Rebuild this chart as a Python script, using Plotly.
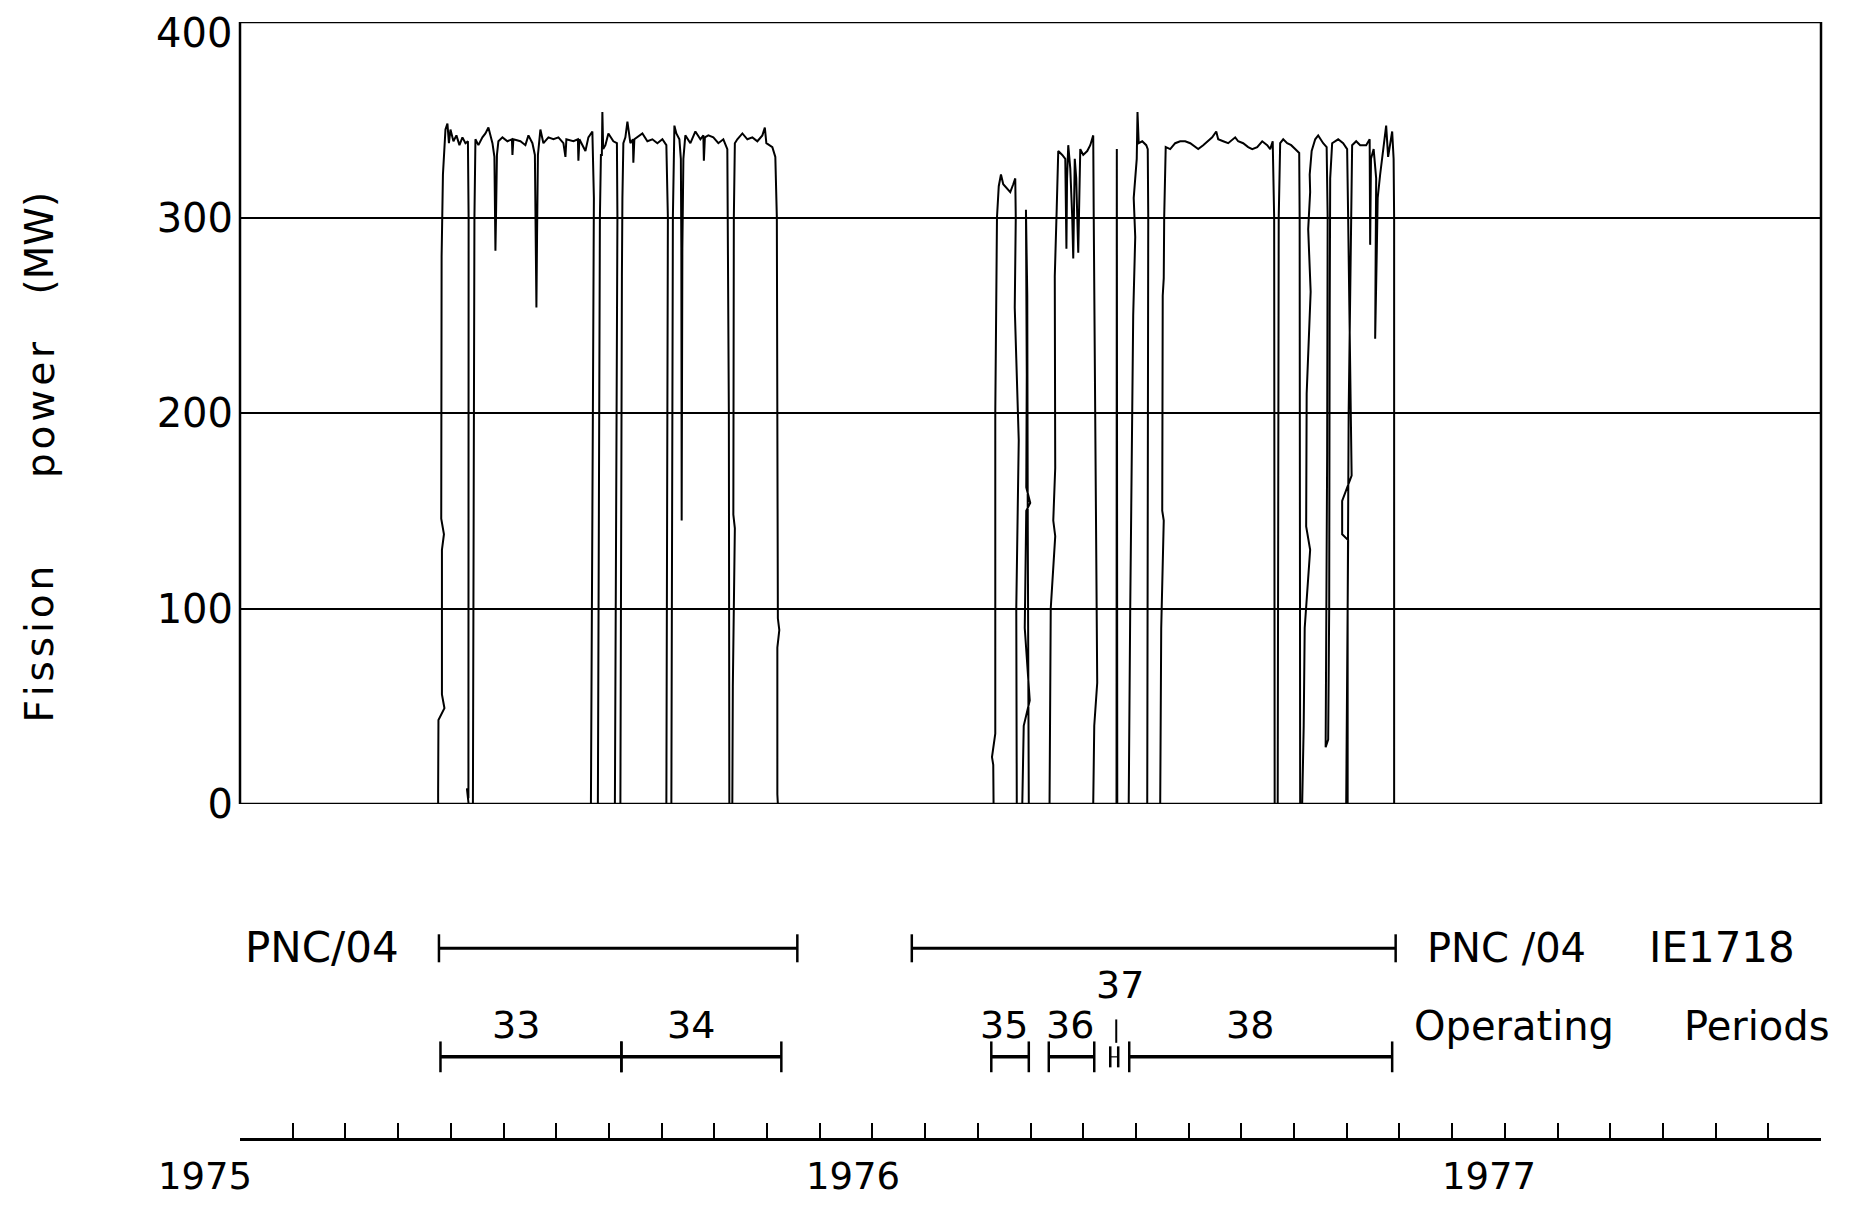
import plotly.graph_objects as go

# ---------------- data ----------------
# Fission power trace, operating block 1 (1975): time in decimal years, power in MW
block1_year = [
    1975.3133, 1975.3133, 1975.3138, 1975.3233, 1975.3193, 1975.3193, 1975.3225, 1975.3182,
    1975.3188, 1975.3209, 1975.3249, 1975.3280, 1975.3304, 1975.3328, 1975.3375, 1975.3422,
    1975.3470, 1975.3517, 1975.3565, 1975.3604, 1975.3615, 1975.3612, 1975.3588, 1975.3615,
    1975.3683, 1975.3691, 1975.3707, 1975.3723, 1975.3770, 1975.3833, 1975.3881, 1975.3928,
    1975.3992, 1975.4023, 1975.4034, 1975.4039, 1975.4048, 1975.4063, 1975.4086, 1975.4150,
    1975.4229, 1975.4300, 1975.4308, 1975.4323, 1975.4434, 1975.4513, 1975.4561, 1975.4624,
    1975.4663, 1975.4679, 1975.4687, 1975.4697, 1975.4711, 1975.4750, 1975.4798, 1975.4877,
    1975.4956, 1975.5035, 1975.5114, 1975.5146, 1975.5161, 1975.5272, 1975.5343, 1975.5351,
    1975.5367, 1975.5462, 1975.5509, 1975.5572, 1975.5596, 1975.5580, 1975.5557, 1975.5549,
    1975.5659, 1975.5675, 1975.5691, 1975.5707, 1975.5722, 1975.5730, 1975.5743, 1975.5778,
    1975.5825, 1975.5904, 1975.5960, 1975.5968, 1975.5944, 1975.5928, 1975.6015, 1975.6023,
    1975.6039, 1975.6047, 1975.6062, 1975.6094, 1975.6126, 1975.6173, 1975.6213, 1975.6220,
    1975.6236, 1975.6363, 1975.6442, 1975.6521, 1975.6600, 1975.6679, 1975.6742, 1975.6766,
    1975.6750, 1975.6742, 1975.6821, 1975.6837, 1975.6845, 1975.6869, 1975.6900, 1975.6948,
    1975.6971, 1975.6979, 1975.6984, 1975.6995, 1975.7011, 1975.7042, 1975.7122, 1975.7201,
    1975.7280, 1975.7327, 1975.7335, 1975.7351, 1975.7406, 1975.7485, 1975.7564, 1975.7643,
    1975.7706, 1975.7730, 1975.7738, 1975.7785, 1975.7793, 1975.7825, 1975.7801, 1975.7809,
    1975.7825, 1975.7864, 1975.7944, 1975.8023, 1975.8102, 1975.8181, 1975.8260, 1975.8299,
    1975.8323, 1975.8418, 1975.8465, 1975.8489, 1975.8497, 1975.8505, 1975.8528, 1975.8497,
    1975.8497, 1975.8505,
]
block1_mw = [
    0, 6, 43, 49, 56, 130, 138, 146,
    280, 322, 345, 348, 338, 345, 339, 342,
    337, 341, 338, 339, 300, 3, 8, 0,
    0, 160, 300, 340, 337, 341, 343, 346,
    338, 331, 300, 283, 300, 332, 339, 341,
    339, 340, 332, 340, 339, 337, 342, 338,
    332, 290, 254, 290, 332, 345, 338, 341,
    340, 341, 338, 331, 340, 339, 340, 329,
    340, 334, 341, 344, 310, 200, 50, 0,
    0, 150, 300, 332, 332, 354, 335, 337,
    343, 339, 338, 300, 150, 0, 0, 150,
    270, 310, 338, 341, 349, 338, 340, 328,
    340, 343, 339, 340, 338, 340, 337, 300,
    150, 0, 0, 150, 300, 347, 343, 340,
    330, 284, 145, 284, 330, 342, 338, 344,
    340, 342, 329, 341, 342, 341, 338, 340,
    335, 200, 0, 0, 60, 141, 148, 300,
    338, 340, 343, 340, 341, 339, 342, 346,
    338, 336, 331, 300, 200, 95, 89, 80,
    5, 0,
]

# Fission power trace, operating block 2 (1976)
block2_year = [
    1976.1916, 1976.1911, 1976.1891, 1976.1943, 1976.1943, 1976.1970, 1976.1998, 1976.2033,
    1976.2069, 1976.2128, 1976.2180, 1976.2227, 1976.2259, 1976.2267, 1976.2251, 1976.2275,
    1976.2314, 1976.2275, 1976.2283, 1976.2370, 1976.2393, 1976.2488, 1976.2409, 1976.2433,
    1976.2496, 1976.2433, 1976.2441, 1976.2428, 1976.2449, 1976.2457, 1976.2465, 1976.2473,
    1976.2801, 1976.2820, 1976.2891, 1976.2860, 1976.2891, 1976.2884, 1976.2915, 1976.2939,
    1976.3002, 1976.3050, 1976.3068, 1976.3078, 1976.3097, 1976.3129, 1976.3160, 1976.3176,
    1976.3200, 1976.3223, 1976.3255, 1976.3271, 1976.3287, 1976.3334, 1976.3397, 1976.3445,
    1976.3492, 1976.3500, 1976.3524, 1976.3555, 1976.3508, 1976.3492, 1976.3860, 1976.3865,
    1976.3872, 1976.4053, 1976.4077, 1976.4101, 1976.4124, 1976.4156, 1976.4132, 1976.4180,
    1976.4192, 1976.4211, 1976.4267, 1976.4330, 1976.4354, 1976.4362, 1976.4354, 1976.4346,
    1976.4551, 1976.4567, 1976.4607, 1976.4583, 1976.4591, 1976.4607, 1976.4614, 1976.4638,
    1976.4709, 1976.4788, 1976.4867, 1976.4946, 1976.5026, 1976.5105, 1976.5152, 1976.5231,
    1976.5294, 1976.5373, 1976.5437, 1976.5468, 1976.5547, 1976.5626, 1976.5737, 1976.5784,
    1976.5863, 1976.5942, 1976.6006, 1976.6085, 1976.6164, 1976.6243, 1976.6290, 1976.6330,
    1976.6353, 1976.6361, 1976.6409, 1976.6425, 1976.6448, 1976.6496, 1976.6559, 1976.6622,
    1976.6685, 1976.6749, 1976.6756, 1976.6764, 1976.6796, 1976.6820, 1976.6836, 1976.6922,
    1976.6859, 1976.6867, 1976.6930, 1976.6891, 1976.6922, 1976.6915, 1976.6946, 1976.7002,
    1976.7049, 1976.7128, 1976.7183, 1976.7199, 1976.7191, 1976.7175, 1976.7167, 1976.7207,
    1976.7223, 1976.7231, 1976.7239, 1976.7270, 1976.7365, 1976.7444, 1976.7507, 1976.7523,
    1976.7578, 1976.7428, 1976.7428, 1976.7523, 1976.7507, 1976.7492, 1976.7515, 1976.7515,
    1976.7531, 1976.7563, 1976.7586, 1976.7650, 1976.7713, 1976.7808, 1976.7863, 1976.7871,
    1976.7884, 1976.7926, 1976.7966, 1976.7958, 1976.7950, 1976.7974, 1976.7990, 1976.8029,
    1976.8124, 1976.8155, 1976.8219, 1976.8242, 1976.8250, 1976.8250,
]
block2_mw = [
    0, 20, 24, 36, 200, 300, 316, 322,
    317, 315, 313, 317, 320, 300, 254, 228,
    186, 100, 0, 0, 40, 53, 90, 150,
    154, 162, 220, 304, 260, 140, 40, 0,
    0, 100, 137, 145, 172, 270, 305, 334,
    332, 330, 284, 320, 337, 325, 300, 279,
    330, 320, 282, 320, 335, 332, 334, 337,
    342, 300, 200, 62, 40, 0, 0, 335,
    0, 0, 100, 200, 250, 290, 310, 330,
    354, 338, 339, 337, 335, 300, 100, 0,
    0, 90, 145, 150, 260, 269, 300, 336,
    335, 338, 339, 339, 338, 336, 335, 337,
    339, 341, 344, 340, 339, 338, 341, 339,
    338, 336, 335, 336, 339, 337, 335, 339,
    300, 0, 0, 300, 338, 340, 338, 337,
    335, 333, 300, 0, 0, 40, 90, 130,
    142, 210, 262, 294, 313, 322, 334, 340,
    342, 338, 336, 300, 180, 60, 29, 33,
    100, 250, 320, 338, 340, 338, 335, 300,
    168, 155, 138, 135, 60, 0, 0, 99,
    200, 300, 337, 339, 337, 337, 340, 286,
    330, 335, 320, 280, 238, 280, 310, 322,
    347, 331, 344, 330, 300, 0,
]

# axis extent and ticks
x_start, x_end = 1975.0, 1977.5
month_ticks = [1975 + k / 12 for k in range(31)]
year_labels = ["1975", "1976", "1977"]
year_values = [1975.0, 1976.0, 1977.0]
power_ticks = [0, 100, 200, 300, 400]

# fuel element PNC/04 irradiation spans
pnc_start = [1975.3146, 1976.0623]
pnc_end = [1975.8813, 1976.8274]

# operating periods
period_labels = ["33", "34", "35", "36", "37", "38"]
period_start = [1975.3170, 1975.6031, 1976.1880, 1976.2789, 1976.3761, 1976.4061]
period_end = [1975.6031, 1975.8560, 1976.2473, 1976.3508, 1976.3887, 1976.8219]
period_label_x = [1975.4371, 1975.7137, 1976.2077, 1976.3121, 1976.3919, 1976.5974]
period37_pointer_x = 1976.3856

# ---------------- figure ----------------
FONT = "DejaVu Sans"
INK = "black"
HAIR = "\u200a"

time_all = [x_start] + block1_year + block2_year + [x_end]
power_all = [0] + block1_mw + block2_mw + [0]

fig = go.Figure()
fig.add_trace(go.Scatter(
    x=time_all, y=power_all, mode="lines",
    line=dict(color=INK, width=2), xaxis="x", yaxis="y",
    showlegend=False, hoverinfo="skip",
))

ROW_PNC = 0.568
ROW_PERIOD = 0.243

for s, e in zip(pnc_start, pnc_end):
    fig.add_trace(go.Scatter(
        x=[s, e], y=[ROW_PNC, ROW_PNC], mode="lines+markers", xaxis="x", yaxis="y2",
        line=dict(color=INK, width=3),
        marker=dict(symbol="line-ns", size=20, color=INK, line=dict(color=INK, width=2.5)),
        showlegend=False, hoverinfo="skip",
    ))

for lab, s, e in zip(period_labels, period_start, period_end):
    short = (e - s) < 0.02
    fig.add_trace(go.Scatter(
        x=[s, e], y=[ROW_PERIOD, ROW_PERIOD], mode="lines+markers", xaxis="x", yaxis="y2",
        line=dict(color=INK, width=3.5 if not short else 1.2),
        marker=dict(symbol="line-ns", size=22 if not short else 15, color=INK,
                    line=dict(color=INK, width=2.5)),
        showlegend=False, hoverinfo="skip",
    ))

# small pointer under label 37
fig.add_trace(go.Scatter(
    x=[period37_pointer_x, period37_pointer_x], y=[0.355, 0.285], mode="lines",
    xaxis="x", yaxis="y2", line=dict(color=INK, width=2),
    showlegend=False, hoverinfo="skip",
))

annotations = []
for lab, lx in zip(period_labels, period_label_x):
    annotations.append(dict(
        x=lx, y=0.1371 if lab == "37" else 0.1013, xref="x", yref="paper",
        text=lab, showarrow=False, font=dict(family=FONT, size=38, color=INK),
        xanchor="center", yanchor="middle",
    ))

for lab, yv, sh in zip(year_labels, year_values, [-35, -19, -16]):
    annotations.append(dict(
        x=yv, y=-0.0349, xref="x", yref="paper", xshift=sh,
        text=lab, showarrow=False, font=dict(family=FONT, size=37, color=INK),
        xanchor="center", yanchor="middle",
    ))

# top power label drawn slightly inside the page so it is not cut
annotations.append(dict(
    x=0, y=power_ticks[-1], xref="paper", yref="y", xshift=-6, yshift=-11,
    text=str(power_ticks[-1]), showarrow=False,
    font=dict(family=FONT, size=40, color=INK), xanchor="right", yanchor="middle",
))

side_text = [
    ("PNC/04", 0.1018, 0.1703, "right", 42),
    ("PNC /04", 0.7495, 0.1703, "left", 40),
    ("IE1718", 0.8899, 0.1703, "left", 42),
    ("Operating", 0.7413, 0.1004, "left", 40),
    ("Periods", 0.9121, 0.1004, "left", 40),
]
for txt, px, py, anc, sz in side_text:
    annotations.append(dict(
        x=px, y=py, xref="paper", yref="paper", text=txt, showarrow=False,
        font=dict(family=FONT, size=sz, color=INK), xanchor=anc, yanchor="middle",
    ))

for txt, py in [(HAIR.join("Fission"), 0.4422), (HAIR.join("power"), 0.6523), ("(MW)", 0.8015)]:
    annotations.append(dict(
        x=-0.1265, y=py, xref="paper", yref="paper", text=txt, showarrow=False,
        textangle=-90, font=dict(family=FONT, size=39, color=INK),
        xanchor="center", yanchor="middle",
    ))

# The page body adds an 8 px margin, so the figure is 16 px smaller than the window
fig.update_layout(
    template="none",
    width=1847, height=1192,
    margin=dict(l=232, r=34, t=14, b=62, pad=0, autoexpand=False),
    paper_bgcolor="white", plot_bgcolor="white",
    showlegend=False,
    xaxis=dict(
        range=[x_start, x_end], domain=[0, 1], anchor="y2", automargin=False,
        showline=True, linecolor=INK, linewidth=3,
        ticks="inside", tickvals=month_ticks, ticklen=15, tickwidth=2, tickcolor=INK,
        showticklabels=False, showgrid=False, zeroline=False,
    ),
    yaxis=dict(
        domain=[0.29928, 1], range=[0, 400], anchor="x", automargin=False,
        tickvals=power_ticks[:-1], ticktext=[str(v) for v in power_ticks[:-1]],
        showgrid=True, gridcolor=INK, gridwidth=2,
        showline=False, zeroline=False, ticks="", ticklabelstandoff=6,
        tickfont=dict(family=FONT, size=40, color=INK),
    ),
    yaxis2=dict(domain=[0, 0.29928], range=[0, 1], anchor="x", visible=False),
    shapes=[dict(
        type="rect", xref="paper", yref="y", x0=0, x1=1, y0=0, y1=400,
        line=dict(color=INK, width=2.5), fillcolor="rgba(0,0,0,0)", layer="above",
    )],
    annotations=annotations,
)

fig.write_html("out.html")
